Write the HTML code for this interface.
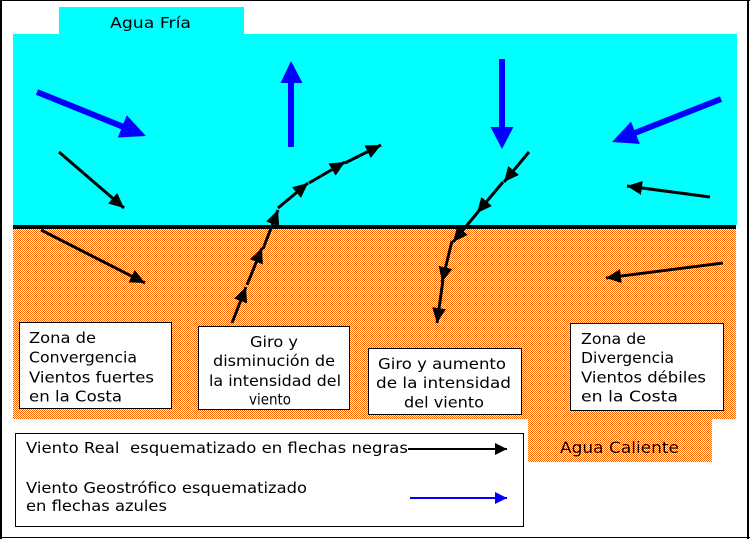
<!DOCTYPE html>
<html>
<head>
<meta charset="utf-8">
<style>
html,body{margin:0;padding:0;background:#fff;}
svg{display:block;}
text{font-family:"DejaVu Sans","Liberation Sans",sans-serif;fill:#000;}
</style>
</head>
<body>
<svg width="750" height="539" viewBox="0 0 750 539" xmlns="http://www.w3.org/2000/svg">
<defs>
<pattern id="chk" width="2" height="2" patternUnits="userSpaceOnUse">
<rect width="2" height="2" fill="#fff"/>
<rect x="0" y="0" width="1" height="1" fill="#ff6600"/>
<rect x="1" y="1" width="1" height="1" fill="#ff6600"/>
</pattern>
<marker id="ah" markerUnits="userSpaceOnUse" markerWidth="16" markerHeight="15" refX="15" refY="7" orient="auto">
<path d="M0,0 L15,7 L0,14 z" fill="#000"/>
</marker>
<marker id="lb" markerUnits="userSpaceOnUse" markerWidth="13" markerHeight="13" refX="12" refY="6" orient="auto">
<path d="M0,0 L12,6 L0,12 z" fill="#000"/>
</marker>
<marker id="lbb" markerUnits="userSpaceOnUse" markerWidth="13" markerHeight="13" refX="12" refY="6" orient="auto">
<path d="M0,0 L12,6 L0,12 z" fill="#0000ff"/>
</marker>
</defs>

<rect x="0" y="0" width="750" height="539" fill="#fff"/>

<!-- cold water -->
<rect x="59" y="7" width="185" height="28" fill="#00ffff"/>
<rect x="13" y="34" width="724" height="191" fill="#00ffff"/>
<text x="110" y="28" font-size="15.5" textLength="81" lengthAdjust="spacingAndGlyphs">Agua Fría</text>

<!-- warm water -->
<rect x="13" y="229" width="723" height="190" fill="url(#chk)"/>
<rect x="528" y="418" width="184" height="44" fill="url(#chk)"/>
<text x="560" y="453" font-size="16" textLength="119" lengthAdjust="spacingAndGlyphs">Agua Caliente</text>

<!-- coast line -->
<rect x="13" y="225" width="723" height="4" fill="#000"/>

<!-- blue geostrophic arrows -->
<g fill="#0000ff">
<g transform="translate(37,92) rotate(21.98)">
<rect x="0" y="-3" width="93" height="6"/>
<polygon points="92,-12 117.5,0 92,12"/>
</g>
<rect x="288" y="82" width="6" height="65"/>
<polygon points="280.5,83 291,61 302.5,83"/>
<rect x="499" y="59" width="6" height="69"/>
<polygon points="490.5,127 502,149 513.5,127"/>
<g transform="translate(721,99) rotate(158.47)">
<rect x="0" y="-3" width="93" height="6"/>
<polygon points="92,-12 117.2,0 92,12"/>
</g>
</g>

<!-- black real wind arrows -->
<g stroke="#000" stroke-width="3" fill="none" marker-end="url(#ah)">
<line x1="59" y1="152" x2="124" y2="208"/>
<line x1="41" y1="230" x2="145" y2="283"/>
<line x1="232" y1="323" x2="246" y2="287"/>
<line x1="247" y1="285" x2="262" y2="248"/>
<line x1="263" y1="249" x2="278" y2="210"/>
<line x1="278" y1="208" x2="308" y2="183"/>
<line x1="309" y1="183" x2="345" y2="162"/>
<line x1="345" y1="163" x2="381" y2="145"/>
<line x1="529" y1="152" x2="504" y2="182"/>
<line x1="503" y1="182" x2="477" y2="213"/>
<line x1="478" y1="212" x2="453" y2="242"/>
<line x1="452" y1="241" x2="442" y2="282"/>
<line x1="443" y1="280" x2="437" y2="323"/>
<line x1="710" y1="197" x2="627" y2="186"/>
<line x1="723" y1="263" x2="606" y2="278"/>
</g>

<!-- text boxes -->
<g fill="#fff" stroke="#000" stroke-width="1">
<rect x="19.5" y="322.5" width="152" height="86"/>
<rect x="198.5" y="326.5" width="151" height="83"/>
<rect x="368.5" y="348.5" width="153" height="66"/>
<rect x="570.5" y="323.5" width="153" height="87"/>
</g>
<g font-size="15">
<text x="29" y="343" textLength="67" lengthAdjust="spacingAndGlyphs">Zona de</text>
<text x="29" y="362.5" textLength="108" lengthAdjust="spacingAndGlyphs">Convergencia</text>
<text x="29" y="382.5" textLength="125" lengthAdjust="spacingAndGlyphs">Vientos fuertes</text>
<text x="29" y="401.5" textLength="93" lengthAdjust="spacingAndGlyphs">en la Costa</text>

<text x="250" y="347" textLength="48" lengthAdjust="spacingAndGlyphs">Giro y</text>
<text x="213" y="366" textLength="122" lengthAdjust="spacingAndGlyphs">disminución de</text>
<text x="209" y="386" textLength="132" lengthAdjust="spacingAndGlyphs">la intensidad del</text>
<text x="249" y="404.5" textLength="42" lengthAdjust="spacingAndGlyphs">viento</text>

<text x="378" y="369" textLength="128" lengthAdjust="spacingAndGlyphs">Giro y aumento</text>
<text x="376" y="388" textLength="135" lengthAdjust="spacingAndGlyphs">de la intensidad</text>
<text x="404" y="407.5" textLength="80" lengthAdjust="spacingAndGlyphs">del viento</text>

<text x="581" y="344" textLength="65" lengthAdjust="spacingAndGlyphs">Zona de</text>
<text x="581" y="363" textLength="93" lengthAdjust="spacingAndGlyphs">Divergencia</text>
<text x="581" y="382.5" textLength="125" lengthAdjust="spacingAndGlyphs">Vientos débiles</text>
<text x="581" y="401.5" textLength="97" lengthAdjust="spacingAndGlyphs">en la Costa</text>
</g>

<!-- legend -->
<rect x="15.5" y="433.5" width="508" height="93" fill="#fff" stroke="#000" stroke-width="1"/>
<g font-size="15">
<text x="26" y="453" textLength="382" lengthAdjust="spacingAndGlyphs" xml:space="preserve">Viento Real  esquematizado en flechas negras</text>
<text x="26" y="493" textLength="281" lengthAdjust="spacingAndGlyphs">Viento Geostrófico esquematizado</text>
<text x="26" y="511" textLength="141" lengthAdjust="spacingAndGlyphs">en flechas azules</text>
</g>
<line x1="408" y1="449" x2="507" y2="449" stroke="#000" stroke-width="2" marker-end="url(#lb)"/>
<line x1="410" y1="498" x2="507" y2="498" stroke="#0000ff" stroke-width="2" marker-end="url(#lbb)"/>

<!-- outer frame -->
<rect x="0" y="0" width="2" height="539" fill="#000"/>
<rect x="0" y="0" width="750" height="1" fill="#000"/>
<rect x="747" y="0" width="2" height="539" fill="#000"/>
<rect x="0" y="537" width="750" height="1" fill="#000"/>
</svg>
</body>
</html>
